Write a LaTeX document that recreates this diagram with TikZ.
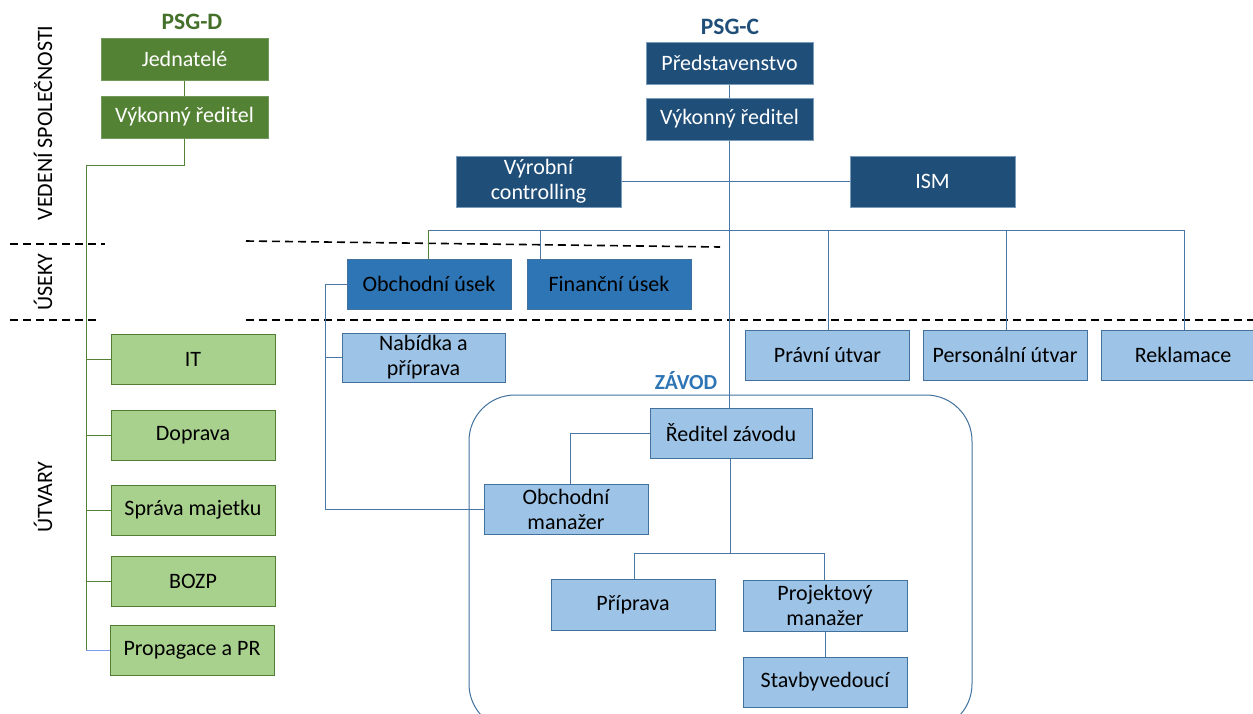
\documentclass[tikz,border=0pt]{standalone}
\usepackage{fontspec}
\setmainfont{Carlito}
\definecolor{dgreen}{HTML}{548235}
\definecolor{lgreen}{HTML}{A9D18E}
\definecolor{gedge}{HTML}{507E32}
\definecolor{psgd}{HTML}{44702A}
\definecolor{dblue}{HTML}{1F4E79}
\definecolor{mblue}{HTML}{2E75B6}
\definecolor{lblue}{HTML}{9DC3E6}
\definecolor{bedge}{HTML}{41719C}
\definecolor{bline}{HTML}{4A76A8}
\tikzset{
  box/.style={draw, minimum width=164pt, minimum height=50pt, align=center,
    inner sep=0pt, line width=1pt, font=\fontsize{22}{25}\selectfont},
  dgbox/.style={box, fill=dgreen, draw=gedge!80!white, text=white, minimum width=167pt, minimum height=42pt},
  lgbox/.style={box, fill=lgreen, draw=gedge, text=black},
  dbbox/.style={box, fill=dblue, draw=bedge!70!white, text=white},
  mbbox/.style={box, fill=mblue, draw=bedge, text=black},
  lbbox/.style={box, fill=lblue, draw=bedge, text=black},
  gline/.style={draw=dgreen, line width=0.9pt},
  bline/.style={draw=bline, line width=0.9pt},
  sep/.style={draw=black, line width=1.6pt, dash pattern=on 8pt off 5pt},
  lvl/.style={rotate=90, font=\fontsize{22}{25}\selectfont, text=black},
  head/.style={font=\fontsize{23.5}{27}\selectfont\bfseries}
}
\begin{document}
\begin{tikzpicture}[x=1pt, y=-1pt]
\useasboundingbox (0,0) rectangle (1253,713);
\clip (0,0) rectangle (1253,713);

% level labels and separators
\node[lvl] (l1) at (43,123) {VEDENÍ SPOLEČNOSTI};
\node[lvl] (l2) at (43,282) {ÚSEKY};
\node[lvl] (l3) at (43,497) {ÚTVARY};
\draw[sep] (10,244) -- (105,244);
\draw[sep] (10,320) -- (100,320);
\draw[sep] (246,241) -- (720,247);
\draw[sep] (246,320) -- (1253,320);

% PSG-D
\node[head, text=psgd] (psgd) at (192,22) {PSG-D};
\node[dgbox] (jed) at (184.5,59) {Jednatelé};
\node[dgbox] (vkd) at (184.5,117) {Výkonný ředitel};
\node[lgbox] (it) at (193,359.5) {IT};
\node[lgbox] (dop) at (193,435) {Doprava};
\node[lgbox] (spr) at (193,510) {Správa majetku};
\node[lgbox] (boz) at (193,581.5) {BOZP};
\node[lgbox] (pro) at (192,650) {Propagace a PR};

\coordinate (dtop) at (86,165);
\draw[gline] (jed) -- (vkd);
\draw[gline] (vkd.south) |- (dtop) -- (dtop |- pro.west);
\draw[gline] (dtop |- it.west) -- (it.west);
\draw[gline] (dtop |- dop.west) -- (dop.west);
\draw[gline] (dtop |- spr.west) -- (spr.west);
\draw[gline] (dtop |- boz.west) -- (boz.west);
\draw[draw=lblue!80!blue, line width=0.9pt] (dtop |- pro.west) -- (pro.west);

% PSG-C
\node[head, text=dblue] (psgc) at (730,27) {PSG-C};
\node[dbbox, minimum width=167pt, minimum height=42pt] (pred) at (729.5,63) {Představenstvo};
\node[dbbox, minimum width=167pt, minimum height=42pt] (vkc) at (729.5,119) {Výkonný ředitel};
\node[dbbox, minimum width=165pt, minimum height=51pt] (vyc) at (538.5,181.5) {Výrobní\\controlling};
\node[dbbox, minimum width=165pt, minimum height=51pt] (ism) at (932.5,181.5) {ISM};

\node[mbbox] (obu) at (429,284) {Obchodní úsek};
\node[mbbox] (fiu) at (609,284) {Finanční úsek};

\node[lbbox, minimum width=163pt, minimum height=49pt] (nab) at (423.5,357.5) {Nabídka a\\příprava};
\node[lbbox] (prv) at (827.5,355) {Právní útvar};
\node[lbbox] (per) at (1005,355) {Personální útvar};
\node[lbbox] (rek) at (1183,355) {Reklamace};

% ZÁVOD
\node[head, text=mblue, font=\fontsize{21.5}{25}\selectfont\bfseries] (zav) at (686,381) {ZÁVOD};
\draw[draw=bedge, line width=1pt, rounded corners=46pt] (469,395) rectangle (972,730);
\node[lbbox, minimum width=162pt] (rz) at (731,433) {Ředitel závodu};
\node[lbbox] (om) at (566,509) {Obchodní\\manažer};
\node[lbbox, minimum height=51pt] (pri) at (633,604.5) {Příprava};
\node[lbbox, minimum height=51pt] (pm) at (825,605.5) {Projektový\\manažer};
\node[lbbox] (stv) at (825,682) {Stavbyvedoucí};

% C connectors
\coordinate (bl) at (428,230);
\coordinate (br) at (1184,230);
\draw[bline] (pred) -- (vkc);
\draw[bline] (vkc.south) -- (vkc.south |- rz.north);
\draw[bline] (vyc.east) -- (ism.west);
\draw[bline] (bl) -- (br);
\draw[gline] (bl) -- (bl |- obu.north);
\draw[bline] (540,230) -- (540,259);
\draw[bline] (828,230) -- (828,330);
\draw[bline] (1006,230) -- (1006,330);
\draw[bline] (br) -- (br |- rek.north);

\coordinate (oleft) at (325,284);
\draw[bline] (obu.west) -- (oleft) |- (om.west);
\draw[bline] (oleft |- nab.west) -- (nab.west);

\draw[bline] (rz.west) -| (570,484);
\coordinate (zmid) at (730,553);
\draw[bline] (rz.south -| zmid) -- (zmid);
\draw[bline] (634,553) -- (824,553);
\draw[bline] (634,553) -- (pri.north -| 634,0);
\draw[bline] (824,553) -- (pm.north -| 824,0);
\draw[bline] (pm) -- (stv);
\end{tikzpicture}
\end{document}
